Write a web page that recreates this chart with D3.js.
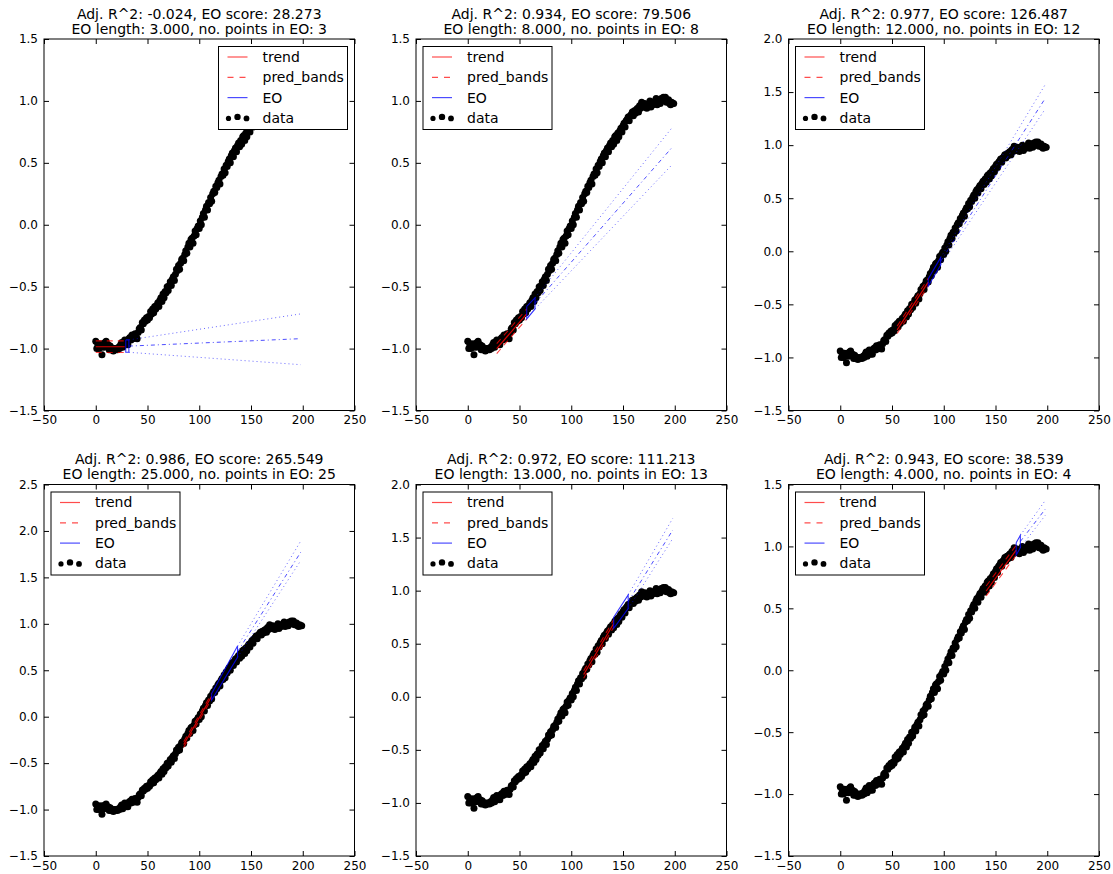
<!DOCTYPE html>
<html>
<head>
<meta charset="utf-8">
<script src="https://cdn.jsdelivr.net/npm/d3@7"></script>
<style>
  html, body { margin: 0; padding: 0; background: #fff; }
  svg { display: block; font-family: "DejaVu Sans", sans-serif; }
</style>
</head>
<body>
<svg id="chart" width="1113" height="874"></svg>
<script>
// Observed series, one value per x = 0 .. 199
const dataY = [
  -0.94, -1.00, -0.97, -1.00, -0.96, -0.99, -1.05, -0.96, -0.99, -0.95,
  -0.94, -0.98, -0.97, -1.01, -0.98, -1.01, -1.00, -1.02, -1.00, -1.01,
  -1.00, -1.01, -0.99, -1.00, -0.97, -0.95, -0.99, -0.96, -0.93, -0.97,
  -0.94, -0.97, -0.92, -0.91, -0.93, -0.89, -0.92, -0.89, -0.88, -0.91,
  -0.92, -0.87, -0.84, -0.83, -0.85, -0.79, -0.80, -0.77, -0.78, -0.75,
  -0.77, -0.74, -0.75, -0.70, -0.72, -0.68, -0.71, -0.66, -0.68, -0.65,
  -0.63, -0.66, -0.61, -0.59, -0.62, -0.56, -0.59, -0.54, -0.55, -0.50,
  -0.53, -0.49, -0.46, -0.49, -0.44, -0.42, -0.45, -0.40, -0.36, -0.37,
  -0.33, -0.36, -0.31, -0.28, -0.27, -0.29, -0.24, -0.21, -0.23, -0.18,
  -0.15, -0.18, -0.12, -0.11, -0.15, -0.09, -0.05, -0.08, -0.03, -0.01,
  -0.03,  0.03,  0.00,  0.06,  0.09,  0.06,  0.12,  0.15,  0.12,  0.18,
   0.17,  0.22,  0.19,  0.25,  0.27,  0.26,  0.31,  0.30,  0.34,  0.36,
   0.33,  0.39,  0.41,  0.40,  0.45,  0.42,  0.48,  0.47,  0.51,  0.53,
   0.50,  0.56,  0.58,  0.55,  0.60,  0.62,  0.59,  0.64,  0.66,  0.63,
   0.68,  0.65,  0.71,  0.72,  0.68,  0.74,  0.71,  0.76,  0.78,  0.75,
   0.80,  0.82,  0.79,  0.84,  0.85,  0.87,  0.84,  0.88,  0.89,  0.91,
   0.88,  0.92,  0.90,  0.93,  0.94,  0.91,  0.96,  0.94,  0.99,  0.96,
   0.95,  0.98,  0.96,  0.94,  0.97,  0.96,  1.00,  0.95,  0.98,  0.97,
   0.98,  1.00,  1.02,  0.97,  1.00,  1.01,  0.98,  1.02,  1.00,  1.03,
   1.02,  1.03,  0.99,  1.00,  1.01,  0.98,  0.97,  0.99,  0.98,  0.98
];

// Panel summaries
const adjR2      = ["-0.024", "0.934", "0.977", "0.986", "0.972", "0.943"];
const eoScore    = ["28.273", "79.506", "126.487", "265.549", "111.213", "38.539"];
const eoLength   = ["3.000", "8.000", "12.000", "25.000", "13.000", "4.000"];
const eoPoints   = [3, 8, 12, 25, 13, 4];

// y-axis upper limits per panel (lower limit is -1.5 everywhere)
const yMax = [1.5, 1.5, 2.0, 2.5, 2.0, 1.5];
const xTicks = [-50, 0, 50, 100, 150, 200, 250];

// Trend fit window: [x start, x end], [y start, y end], prediction band half-width
const trendX = [[0, 28], [28, 57], [55, 85], [85, 112], [112, 141], [141, 170]];
const trendY = [[-0.985, -0.985], [-1.0, -0.72], [-0.74, -0.29], [-0.30, 0.22], [0.21, 0.69], [0.64, 0.97]];
const bandHalf = [0.047, 0.04, 0.035, 0.03, 0.035, 0.04];

// EO region: x range, upper and lower bounds at its two ends
const eoX     = [[29, 32], [57, 65], [85, 97], [112, 137], [141, 155], [170, 174]];
const eoUpper = [[-0.93, -0.93], [-0.66, -0.59], [-0.26, -0.06], [0.25, 0.76], [0.75, 0.96], [1.03, 1.09]];
const eoLower = [[-1.03, -1.03], [-0.76, -0.68], [-0.33, -0.13], [0.18, 0.64], [0.645, 0.83], [0.93, 0.99]];

// Extrapolation end values at x = 198: upper, centre, lower
const extUpper  = [-0.72, 0.79, 1.57, 1.89, 1.68, 1.37];
const extCenter = [-0.92, 0.63, 1.44, 1.77, 1.57, 1.30];
const extLower  = [-1.13, 0.49, 1.34, 1.68, 1.49, 1.25];
const extEndX = 198;

// Legend placement ("right" or "left")
const legendSide = ["right", "left", "left", "left", "left", "left"];

const colLeft = [44, 416, 788.5];
const rowTop = [39, 484.5];
const plotW = 310.5, plotH = 371.5;

const svg = d3.select("#chart");
const fmt1 = d3.format(".1f");
const fmt0 = d3.format("d");

const RED = "#ff0000", BLUE = "#0000ff";

for (let p = 0; p < 6; p++) {
  const col = p % 3, row = Math.floor(p / 3);
  const left = colLeft[col], top = rowTop[row];
  const g = svg.append("g").attr("transform", `translate(${left},${top})`);

  const x = d3.scaleLinear().domain([-50, 250]).range([0, plotW]);
  const y = d3.scaleLinear().domain([-1.5, yMax[p]]).range([plotH, 0]);
  const yTicks = d3.range(-1.5, yMax[p] + 0.001, 0.5);

  // clip region for the plot area
  const clipId = "clip" + p;
  g.append("clipPath").attr("id", clipId)
    .append("rect").attr("width", plotW).attr("height", plotH);
  const plot = g.append("g").attr("clip-path", `url(#${clipId})`);

  // data
  plot.append("g").selectAll("circle").data(dataY).join("circle")
    .attr("cx", (d, i) => x(i)).attr("cy", d => y(d)).attr("r", 3.5)
    .attr("fill", "#000");

  const line = d3.line().x(d => x(d[0])).y(d => y(d[1]));

  // trend and prediction bands
  const tx = trendX[p], ty = trendY[p], bh = bandHalf[p];
  plot.append("path").attr("d", line([[tx[0], ty[0]], [tx[1], ty[1]]]))
    .attr("fill", "none").attr("stroke", RED).attr("stroke-opacity", 0.85).attr("stroke-width", 1.2);
  [bh, -bh].forEach(off => {
    plot.append("path").attr("d", line([[tx[0], ty[0] + off], [tx[1], ty[1] + off]]))
      .attr("fill", "none").attr("stroke", RED).attr("stroke-opacity", 0.75)
      .attr("stroke-width", 1.1).attr("stroke-dasharray", "6,5");
  });

  // EO region outline
  const ex = eoX[p], eu = eoUpper[p], el = eoLower[p];
  plot.append("path")
    .attr("d", line([[ex[0], eu[0]], [ex[1], eu[1]], [ex[1], el[1]], [ex[0], el[0]], [ex[0], eu[0]]]))
    .attr("fill", "none").attr("stroke", BLUE).attr("stroke-opacity", 0.8).attr("stroke-width", 1.1);

  // extrapolation beyond EO
  const midStart = (eu[1] + el[1]) / 2;
  plot.append("path").attr("d", line([[ex[1], eu[1]], [extEndX, extUpper[p]]]))
    .attr("fill", "none").attr("stroke", BLUE).attr("stroke-opacity", 0.6)
    .attr("stroke-width", 1).attr("stroke-dasharray", "1,3");
  plot.append("path").attr("d", line([[ex[1], el[1]], [extEndX, extLower[p]]]))
    .attr("fill", "none").attr("stroke", BLUE).attr("stroke-opacity", 0.6)
    .attr("stroke-width", 1).attr("stroke-dasharray", "1,3");
  plot.append("path").attr("d", line([[ex[1], midStart], [extEndX, extCenter[p]]]))
    .attr("fill", "none").attr("stroke", BLUE).attr("stroke-opacity", 0.7)
    .attr("stroke-width", 1).attr("stroke-dasharray", "4,3,1,3");

  // axes: labels on left/bottom, inward ticks on all four sides
  const tickLen = 5;
  const axB = d3.axisBottom(x).tickValues(xTicks).tickSize(-tickLen).tickPadding(5).tickFormat(fmt0);
  const axT = d3.axisTop(x).tickValues(xTicks).tickSize(-tickLen).tickFormat("");
  const axL = d3.axisLeft(y).tickValues(yTicks).tickSize(-tickLen).tickPadding(6).tickFormat(fmt1);
  const axR = d3.axisRight(y).tickValues(yTicks).tickSize(-tickLen).tickFormat("");

  const styleAxis = sel => {
    sel.select(".domain").remove();
    sel.selectAll("line").attr("stroke", "#000").attr("stroke-width", 1);
    sel.selectAll("text").attr("fill", "#000").style("font-size", "12px")
      .style("font-family", "'DejaVu Sans', sans-serif");
  };
  g.append("g").attr("transform", `translate(0,${plotH})`).call(axB).call(styleAxis);
  g.append("g").call(axT).call(styleAxis);
  g.append("g").call(axL).call(styleAxis);
  g.append("g").attr("transform", `translate(${plotW},0)`).call(axR).call(styleAxis);

  g.append("rect").attr("width", plotW).attr("height", plotH)
    .attr("fill", "none").attr("stroke", "#000").attr("stroke-width", 1);

  // legend
  const lgW = 129, lgH = 83;
  const lgX = legendSide[p] === "right" ? plotW - 7 - lgW : 7;
  const lgY = 7.5;
  const lg = g.append("g").attr("transform", `translate(${lgX},${lgY})`);
  lg.append("rect").attr("width", lgW).attr("height", lgH)
    .attr("fill", "#fff").attr("stroke", "#000").attr("stroke-width", 1);
  const rows = [
    { label: "trend", kind: "solid", color: RED },
    { label: "pred_bands", kind: "dash", color: RED },
    { label: "EO", kind: "solid", color: BLUE },
    { label: "data", kind: "dots", color: "#000" }
  ];
  rows.forEach((r, i) => {
    const ry = 10.5 + i * 20.3;
    if (r.kind === "dots") {
      [[10, 2.6], [19, 3.2], [28, 2.9]].forEach(([dx, rr], k) => {
        lg.append("circle").attr("cx", dx).attr("cy", ry + (k === 1 ? -1 : 0.5)).attr("r", rr).attr("fill", "#000");
      });
    } else {
      lg.append("line").attr("x1", 9).attr("x2", 29).attr("y1", ry).attr("y2", ry)
        .attr("stroke", r.color).attr("stroke-opacity", 0.7).attr("stroke-width", 1.2)
        .attr("stroke-dasharray", r.kind === "dash" ? "6,6" : null);
    }
    lg.append("text").attr("x", 44).attr("y", ry).attr("dy", "0.35em")
      .style("font-size", "14px").attr("fill", "#000").text(r.label);
  });

  // title
  g.append("text").attr("x", plotW / 2).attr("y", -20.5).attr("text-anchor", "middle")
    .style("font-size", "14px").attr("fill", "#000")
    .text(`Adj. R^2: ${adjR2[p]}, EO score: ${eoScore[p]}`);
  g.append("text").attr("x", plotW / 2).attr("y", -5.5).attr("text-anchor", "middle")
    .style("font-size", "14px").attr("fill", "#000")
    .text(`EO length: ${eoLength[p]}, no. points in EO: ${eoPoints[p]}`);
}
</script>
</body>
</html>
